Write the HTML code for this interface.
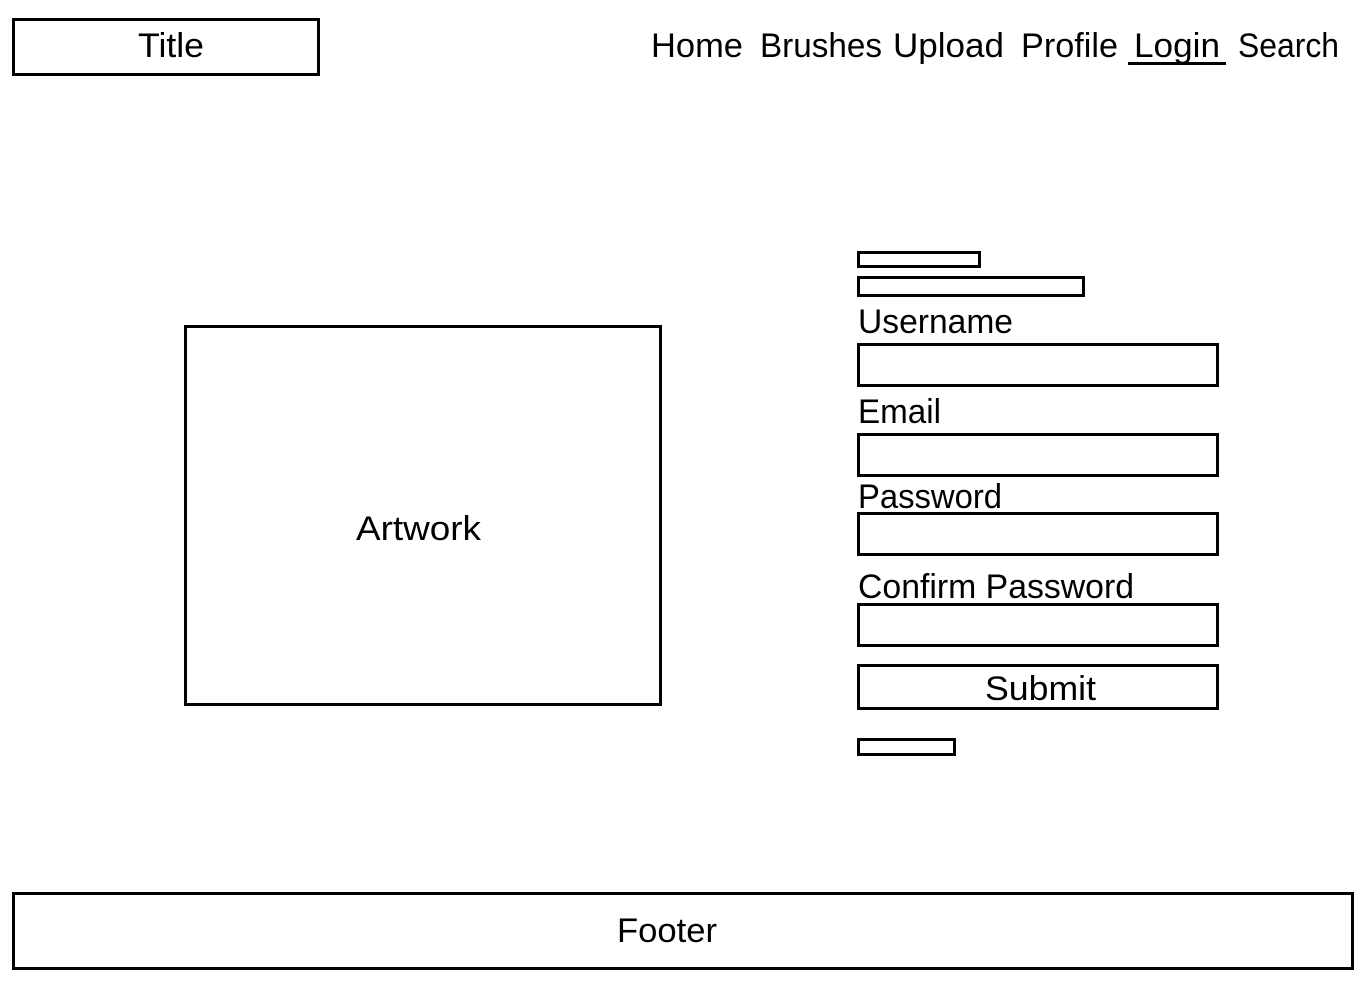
<!DOCTYPE html>
<html><head><meta charset="utf-8"><style>html,body{margin:0;padding:0;background:#fff;width:1366px;height:986px;overflow:hidden}</style></head>
<body>
<svg width="1366" height="986" viewBox="0 0 1366 986" xmlns="http://www.w3.org/2000/svg" font-family="Liberation Sans, sans-serif" fill="none" stroke="#000">
<g stroke-width="3">
<rect x="13.5" y="19.5" width="305" height="55"/>
<rect x="185.5" y="326.5" width="475" height="378"/>
<rect x="13.5" y="893.5" width="1339" height="75"/>
<rect x="858.5" y="344.5" width="359" height="41"/>
<rect x="858.5" y="434.5" width="359" height="41"/>
<rect x="858.5" y="513.5" width="359" height="41"/>
<rect x="858.5" y="604.5" width="359" height="41"/>
<rect x="858.5" y="665.5" width="359" height="43"/>
<rect x="858.5" y="252.5" width="121" height="14"/>
<rect x="858.5" y="277.5" width="225" height="18"/>
<rect x="858.5" y="739.5" width="96" height="15"/>
<line x1="1128" y1="63.5" x2="1226" y2="63.5"/>
</g>
<g fill="#000" stroke="none" font-size="34">
<text x="138" y="57" textLength="66" lengthAdjust="spacingAndGlyphs">Title</text>
<text x="651" y="57" textLength="92" lengthAdjust="spacingAndGlyphs">Home</text>
<text x="760" y="57" textLength="122" lengthAdjust="spacingAndGlyphs">Brushes</text>
<text x="893" y="57" textLength="111" lengthAdjust="spacingAndGlyphs">Upload</text>
<text x="1021" y="57" textLength="97" lengthAdjust="spacingAndGlyphs">Profile</text>
<text x="1134" y="57" textLength="86" lengthAdjust="spacingAndGlyphs">Login</text>
<text x="1238" y="57" textLength="101" lengthAdjust="spacingAndGlyphs">Search</text>
<text x="356" y="540" textLength="125" lengthAdjust="spacingAndGlyphs">Artwork</text>
<text x="858" y="333" textLength="155" lengthAdjust="spacingAndGlyphs">Username</text>
<text x="858" y="423" textLength="83" lengthAdjust="spacingAndGlyphs">Email</text>
<text x="858" y="508" textLength="144" lengthAdjust="spacingAndGlyphs">Password</text>
<text x="858" y="598" textLength="276" lengthAdjust="spacingAndGlyphs">Confirm Password</text>
<text x="985" y="700" textLength="111" lengthAdjust="spacingAndGlyphs">Submit</text>
<text x="617" y="942" textLength="100" lengthAdjust="spacingAndGlyphs">Footer</text>
</g>
</svg>
</body></html>
